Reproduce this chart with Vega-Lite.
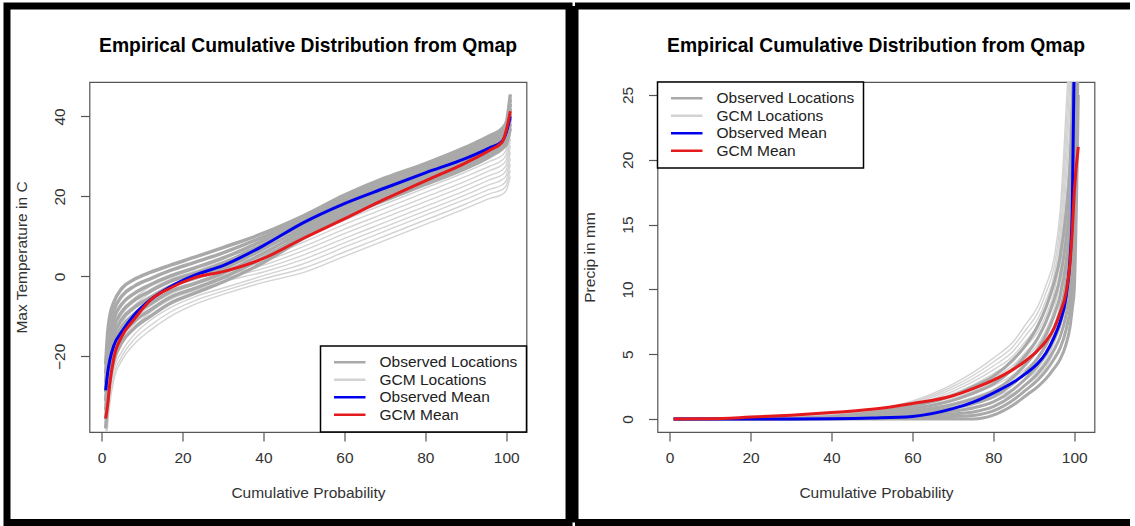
{
"$schema":"https://vega.github.io/schema/vega-lite/v6.json",
"background":"white",
"padding":{"left":2.5,"top":1,"right":0,"bottom":0},
"spacing":-3,
"datasets":{
"temp":[
{"s":"OL","g":"O1","x":1,"y":-22},{"s":"OL","g":"O1","x":1.5,"y":-14},{"s":"OL","g":"O1","x":2,"y":-10},{"s":"OL","g":"O1","x":3,"y":-6.5},{"s":"OL","g":"O1","x":5,"y":-3},{"s":"OL","g":"O1","x":8,"y":-0.8},{"s":"OL","g":"O1","x":12,"y":1},{"s":"OL","g":"O1","x":17,"y":2.8},{"s":"OL","g":"O1","x":23,"y":4.8},{"s":"OL","g":"O1","x":30,"y":7.2},{"s":"OL","g":"O1","x":40,"y":10.8},{"s":"OL","g":"O1","x":50,"y":15.2},{"s":"OL","g":"O1","x":60,"y":20.3},{"s":"OL","g":"O1","x":70,"y":24.6},{"s":"OL","g":"O1","x":80,"y":28.2},{"s":"OL","g":"O1","x":90,"y":32.3},{"s":"OL","g":"O1","x":96,"y":35.2},{"s":"OL","g":"O1","x":99,"y":37},{"s":"OL","g":"O1","x":100,"y":38.5},{"s":"OL","g":"O1","x":101,"y":45.5},
{"s":"OL","g":"O2","x":1,"y":-24.3},{"s":"OL","g":"O2","x":1.5,"y":-16.4},{"s":"OL","g":"O2","x":2,"y":-12.3},{"s":"OL","g":"O2","x":3,"y":-8.6},{"s":"OL","g":"O2","x":5,"y":-4.9},{"s":"OL","g":"O2","x":8,"y":-2.5},{"s":"OL","g":"O2","x":12,"y":-0.6},{"s":"OL","g":"O2","x":17,"y":1.5},{"s":"OL","g":"O2","x":23,"y":3.5},{"s":"OL","g":"O2","x":30,"y":5.9},{"s":"OL","g":"O2","x":40,"y":9.9},{"s":"OL","g":"O2","x":50,"y":14.5},{"s":"OL","g":"O2","x":60,"y":19.5},{"s":"OL","g":"O2","x":70,"y":23.8},{"s":"OL","g":"O2","x":80,"y":27.5},{"s":"OL","g":"O2","x":90,"y":31.5},{"s":"OL","g":"O2","x":96,"y":34.5},{"s":"OL","g":"O2","x":99,"y":36.3},{"s":"OL","g":"O2","x":100,"y":37.7},{"s":"OL","g":"O2","x":101,"y":44.3},
{"s":"OL","g":"O3","x":1,"y":-26.6},{"s":"OL","g":"O3","x":1.5,"y":-18.9},{"s":"OL","g":"O3","x":2,"y":-14.6},{"s":"OL","g":"O3","x":3,"y":-10.6},{"s":"OL","g":"O3","x":5,"y":-6.9},{"s":"OL","g":"O3","x":8,"y":-4.3},{"s":"OL","g":"O3","x":12,"y":-2.1},{"s":"OL","g":"O3","x":17,"y":0.1},{"s":"OL","g":"O3","x":23,"y":2.1},{"s":"OL","g":"O3","x":30,"y":4.6},{"s":"OL","g":"O3","x":40,"y":9.0},{"s":"OL","g":"O3","x":50,"y":13.7},{"s":"OL","g":"O3","x":60,"y":18.8},{"s":"OL","g":"O3","x":70,"y":23.0},{"s":"OL","g":"O3","x":80,"y":26.7},{"s":"OL","g":"O3","x":90,"y":30.8},{"s":"OL","g":"O3","x":96,"y":33.7},{"s":"OL","g":"O3","x":99,"y":35.6},{"s":"OL","g":"O3","x":100,"y":36.9},{"s":"OL","g":"O3","x":101,"y":43.1},
{"s":"OL","g":"O4","x":1,"y":-28.9},{"s":"OL","g":"O4","x":1.5,"y":-21.3},{"s":"OL","g":"O4","x":2,"y":-16.9},{"s":"OL","g":"O4","x":3,"y":-12.7},{"s":"OL","g":"O4","x":5,"y":-8.8},{"s":"OL","g":"O4","x":8,"y":-6.0},{"s":"OL","g":"O4","x":12,"y":-3.7},{"s":"OL","g":"O4","x":17,"y":-1.2},{"s":"OL","g":"O4","x":23,"y":0.8},{"s":"OL","g":"O4","x":30,"y":3.3},{"s":"OL","g":"O4","x":40,"y":8.1},{"s":"OL","g":"O4","x":50,"y":13.0},{"s":"OL","g":"O4","x":60,"y":18.0},{"s":"OL","g":"O4","x":70,"y":22.2},{"s":"OL","g":"O4","x":80,"y":26.0},{"s":"OL","g":"O4","x":90,"y":30.0},{"s":"OL","g":"O4","x":96,"y":33.0},{"s":"OL","g":"O4","x":99,"y":34.9},{"s":"OL","g":"O4","x":100,"y":36.1},{"s":"OL","g":"O4","x":101,"y":41.9},
{"s":"OL","g":"O5","x":1,"y":-31.1},{"s":"OL","g":"O5","x":1.5,"y":-23.7},{"s":"OL","g":"O5","x":2,"y":-19.1},{"s":"OL","g":"O5","x":3,"y":-14.8},{"s":"OL","g":"O5","x":5,"y":-10.7},{"s":"OL","g":"O5","x":8,"y":-7.8},{"s":"OL","g":"O5","x":12,"y":-5.3},{"s":"OL","g":"O5","x":17,"y":-2.5},{"s":"OL","g":"O5","x":23,"y":-0.5},{"s":"OL","g":"O5","x":30,"y":1.9},{"s":"OL","g":"O5","x":40,"y":6.9},{"s":"OL","g":"O5","x":50,"y":12.2},{"s":"OL","g":"O5","x":60,"y":17.3},{"s":"OL","g":"O5","x":70,"y":21.4},{"s":"OL","g":"O5","x":80,"y":25.2},{"s":"OL","g":"O5","x":90,"y":29.3},{"s":"OL","g":"O5","x":96,"y":32.2},{"s":"OL","g":"O5","x":99,"y":34.1},{"s":"OL","g":"O5","x":100,"y":35.4},{"s":"OL","g":"O5","x":101,"y":40.6},
{"s":"OL","g":"O6","x":1,"y":-33.4},{"s":"OL","g":"O6","x":1.5,"y":-26.1},{"s":"OL","g":"O6","x":2,"y":-21.4},{"s":"OL","g":"O6","x":3,"y":-16.9},{"s":"OL","g":"O6","x":5,"y":-12.6},{"s":"OL","g":"O6","x":8,"y":-9.5},{"s":"OL","g":"O6","x":12,"y":-6.9},{"s":"OL","g":"O6","x":17,"y":-3.8},{"s":"OL","g":"O6","x":23,"y":-1.8},{"s":"OL","g":"O6","x":30,"y":0.8},{"s":"OL","g":"O6","x":40,"y":5.8},{"s":"OL","g":"O6","x":50,"y":11.4},{"s":"OL","g":"O6","x":60,"y":16.5},{"s":"OL","g":"O6","x":70,"y":20.6},{"s":"OL","g":"O6","x":80,"y":24.5},{"s":"OL","g":"O6","x":90,"y":28.5},{"s":"OL","g":"O6","x":96,"y":31.5},{"s":"OL","g":"O6","x":99,"y":33.4},{"s":"OL","g":"O6","x":100,"y":34.6},{"s":"OL","g":"O6","x":101,"y":39.4},
{"s":"OL","g":"O7","x":1,"y":-35.7},{"s":"OL","g":"O7","x":1.5,"y":-28.6},{"s":"OL","g":"O7","x":2,"y":-23.7},{"s":"OL","g":"O7","x":3,"y":-18.9},{"s":"OL","g":"O7","x":5,"y":-14.6},{"s":"OL","g":"O7","x":8,"y":-11.3},{"s":"OL","g":"O7","x":12,"y":-8.4},{"s":"OL","g":"O7","x":17,"y":-5.2},{"s":"OL","g":"O7","x":23,"y":-3.0},{"s":"OL","g":"O7","x":30,"y":-0.3},{"s":"OL","g":"O7","x":40,"y":4.7},{"s":"OL","g":"O7","x":50,"y":10.5},{"s":"OL","g":"O7","x":60,"y":15.8},{"s":"OL","g":"O7","x":70,"y":19.8},{"s":"OL","g":"O7","x":80,"y":23.7},{"s":"OL","g":"O7","x":90,"y":27.8},{"s":"OL","g":"O7","x":96,"y":30.7},{"s":"OL","g":"O7","x":99,"y":32.7},{"s":"OL","g":"O7","x":100,"y":33.8},{"s":"OL","g":"O7","x":101,"y":38.2},
{"s":"OL","g":"O8","x":1,"y":-38},{"s":"OL","g":"O8","x":1.5,"y":-31},{"s":"OL","g":"O8","x":2,"y":-26},{"s":"OL","g":"O8","x":3,"y":-21},{"s":"OL","g":"O8","x":5,"y":-16.5},{"s":"OL","g":"O8","x":8,"y":-13},{"s":"OL","g":"O8","x":12,"y":-10},{"s":"OL","g":"O8","x":17,"y":-6.7},{"s":"OL","g":"O8","x":23,"y":-4.2},{"s":"OL","g":"O8","x":30,"y":-1.4},{"s":"OL","g":"O8","x":40,"y":3.5},{"s":"OL","g":"O8","x":50,"y":9.6},{"s":"OL","g":"O8","x":60,"y":15},{"s":"OL","g":"O8","x":70,"y":19},{"s":"OL","g":"O8","x":80,"y":23},{"s":"OL","g":"O8","x":90,"y":27},{"s":"OL","g":"O8","x":96,"y":30},{"s":"OL","g":"O8","x":99,"y":32},{"s":"OL","g":"O8","x":100,"y":33},{"s":"OL","g":"O8","x":101,"y":37},
{"s":"GL","g":"G0","x":1,"y":-28},{"s":"GL","g":"G0","x":1.5,"y":-21},{"s":"GL","g":"G0","x":2,"y":-17},{"s":"GL","g":"G0","x":3,"y":-12.5},{"s":"GL","g":"G0","x":5,"y":-8.5},{"s":"GL","g":"G0","x":8,"y":-5.5},{"s":"GL","g":"G0","x":12,"y":-2.5},{"s":"GL","g":"G0","x":17,"y":0},{"s":"GL","g":"G0","x":23,"y":2},{"s":"GL","g":"G0","x":30,"y":4.5},{"s":"GL","g":"G0","x":40,"y":8},{"s":"GL","g":"G0","x":50,"y":13},{"s":"GL","g":"G0","x":60,"y":17.5},{"s":"GL","g":"G0","x":70,"y":21.5},{"s":"GL","g":"G0","x":80,"y":25.5},{"s":"GL","g":"G0","x":90,"y":29.5},{"s":"GL","g":"G0","x":96,"y":32.3},{"s":"GL","g":"G0","x":99,"y":34},{"s":"GL","g":"G0","x":100,"y":35.5},{"s":"GL","g":"G0","x":101,"y":42},
{"s":"GL","g":"G1","x":1,"y":-29.5},{"s":"GL","g":"G1","x":1.5,"y":-22.5},{"s":"GL","g":"G1","x":2,"y":-18.4},{"s":"GL","g":"G1","x":3,"y":-13.7},{"s":"GL","g":"G1","x":5,"y":-9.5},{"s":"GL","g":"G1","x":8,"y":-6.4},{"s":"GL","g":"G1","x":12,"y":-3.3},{"s":"GL","g":"G1","x":17,"y":-0.7},{"s":"GL","g":"G1","x":23,"y":1.3},{"s":"GL","g":"G1","x":30,"y":3.8},{"s":"GL","g":"G1","x":40,"y":7.1},{"s":"GL","g":"G1","x":50,"y":11.9},{"s":"GL","g":"G1","x":60,"y":16.4},{"s":"GL","g":"G1","x":70,"y":20.4},{"s":"GL","g":"G1","x":80,"y":24.4},{"s":"GL","g":"G1","x":90,"y":28.4},{"s":"GL","g":"G1","x":96,"y":31.1},{"s":"GL","g":"G1","x":99,"y":32.8},{"s":"GL","g":"G1","x":100,"y":34.2},{"s":"GL","g":"G1","x":101,"y":40.5},
{"s":"GL","g":"G2","x":1,"y":-30.9},{"s":"GL","g":"G2","x":1.5,"y":-23.9},{"s":"GL","g":"G2","x":2,"y":-19.7},{"s":"GL","g":"G2","x":3,"y":-15.0},{"s":"GL","g":"G2","x":5,"y":-10.6},{"s":"GL","g":"G2","x":8,"y":-7.3},{"s":"GL","g":"G2","x":12,"y":-4.1},{"s":"GL","g":"G2","x":17,"y":-1.5},{"s":"GL","g":"G2","x":23,"y":0.6},{"s":"GL","g":"G2","x":30,"y":3.0},{"s":"GL","g":"G2","x":40,"y":6.3},{"s":"GL","g":"G2","x":50,"y":10.8},{"s":"GL","g":"G2","x":60,"y":15.2},{"s":"GL","g":"G2","x":70,"y":19.2},{"s":"GL","g":"G2","x":80,"y":23.2},{"s":"GL","g":"G2","x":90,"y":27.2},{"s":"GL","g":"G2","x":96,"y":30.0},{"s":"GL","g":"G2","x":99,"y":31.5},{"s":"GL","g":"G2","x":100,"y":33.0},{"s":"GL","g":"G2","x":101,"y":38.9},
{"s":"GL","g":"G3","x":1,"y":-32.4},{"s":"GL","g":"G3","x":1.5,"y":-25.4},{"s":"GL","g":"G3","x":2,"y":-21.1},{"s":"GL","g":"G3","x":3,"y":-16.2},{"s":"GL","g":"G3","x":5,"y":-11.6},{"s":"GL","g":"G3","x":8,"y":-8.2},{"s":"GL","g":"G3","x":12,"y":-5.0},{"s":"GL","g":"G3","x":17,"y":-2.2},{"s":"GL","g":"G3","x":23,"y":0.0},{"s":"GL","g":"G3","x":30,"y":2.3},{"s":"GL","g":"G3","x":40,"y":5.4},{"s":"GL","g":"G3","x":50,"y":9.7},{"s":"GL","g":"G3","x":60,"y":14.1},{"s":"GL","g":"G3","x":70,"y":18.1},{"s":"GL","g":"G3","x":80,"y":22.1},{"s":"GL","g":"G3","x":90,"y":26.1},{"s":"GL","g":"G3","x":96,"y":28.8},{"s":"GL","g":"G3","x":99,"y":30.3},{"s":"GL","g":"G3","x":100,"y":31.7},{"s":"GL","g":"G3","x":101,"y":37.4},
{"s":"GL","g":"G4","x":1,"y":-33.8},{"s":"GL","g":"G4","x":1.5,"y":-26.8},{"s":"GL","g":"G4","x":2,"y":-22.5},{"s":"GL","g":"G4","x":3,"y":-17.4},{"s":"GL","g":"G4","x":5,"y":-12.7},{"s":"GL","g":"G4","x":8,"y":-9.1},{"s":"GL","g":"G4","x":12,"y":-5.8},{"s":"GL","g":"G4","x":17,"y":-2.9},{"s":"GL","g":"G4","x":23,"y":-0.7},{"s":"GL","g":"G4","x":30,"y":1.6},{"s":"GL","g":"G4","x":40,"y":4.5},{"s":"GL","g":"G4","x":50,"y":8.6},{"s":"GL","g":"G4","x":60,"y":13.0},{"s":"GL","g":"G4","x":70,"y":17.0},{"s":"GL","g":"G4","x":80,"y":21.0},{"s":"GL","g":"G4","x":90,"y":25.0},{"s":"GL","g":"G4","x":96,"y":27.6},{"s":"GL","g":"G4","x":99,"y":29.1},{"s":"GL","g":"G4","x":100,"y":30.4},{"s":"GL","g":"G4","x":101,"y":35.8},
{"s":"GL","g":"G5","x":1,"y":-35.3},{"s":"GL","g":"G5","x":1.5,"y":-28.3},{"s":"GL","g":"G5","x":2,"y":-23.8},{"s":"GL","g":"G5","x":3,"y":-18.6},{"s":"GL","g":"G5","x":5,"y":-13.7},{"s":"GL","g":"G5","x":8,"y":-10.0},{"s":"GL","g":"G5","x":12,"y":-6.6},{"s":"GL","g":"G5","x":17,"y":-3.6},{"s":"GL","g":"G5","x":23,"y":-1.4},{"s":"GL","g":"G5","x":30,"y":0.9},{"s":"GL","g":"G5","x":40,"y":3.7},{"s":"GL","g":"G5","x":50,"y":7.5},{"s":"GL","g":"G5","x":60,"y":11.8},{"s":"GL","g":"G5","x":70,"y":15.8},{"s":"GL","g":"G5","x":80,"y":19.8},{"s":"GL","g":"G5","x":90,"y":23.8},{"s":"GL","g":"G5","x":96,"y":26.5},{"s":"GL","g":"G5","x":99,"y":27.9},{"s":"GL","g":"G5","x":100,"y":29.1},{"s":"GL","g":"G5","x":101,"y":34.3},
{"s":"GL","g":"G6","x":1,"y":-36.7},{"s":"GL","g":"G6","x":1.5,"y":-29.7},{"s":"GL","g":"G6","x":2,"y":-25.2},{"s":"GL","g":"G6","x":3,"y":-19.9},{"s":"GL","g":"G6","x":5,"y":-14.8},{"s":"GL","g":"G6","x":8,"y":-10.9},{"s":"GL","g":"G6","x":12,"y":-7.4},{"s":"GL","g":"G6","x":17,"y":-4.4},{"s":"GL","g":"G6","x":23,"y":-2.1},{"s":"GL","g":"G6","x":30,"y":0.1},{"s":"GL","g":"G6","x":40,"y":2.8},{"s":"GL","g":"G6","x":50,"y":6.5},{"s":"GL","g":"G6","x":60,"y":10.7},{"s":"GL","g":"G6","x":70,"y":14.7},{"s":"GL","g":"G6","x":80,"y":18.7},{"s":"GL","g":"G6","x":90,"y":22.7},{"s":"GL","g":"G6","x":96,"y":25.3},{"s":"GL","g":"G6","x":99,"y":26.6},{"s":"GL","g":"G6","x":100,"y":27.9},{"s":"GL","g":"G6","x":101,"y":32.7},
{"s":"GL","g":"G7","x":1,"y":-38.2},{"s":"GL","g":"G7","x":1.5,"y":-31.2},{"s":"GL","g":"G7","x":2,"y":-26.5},{"s":"GL","g":"G7","x":3,"y":-21.1},{"s":"GL","g":"G7","x":5,"y":-15.8},{"s":"GL","g":"G7","x":8,"y":-11.9},{"s":"GL","g":"G7","x":12,"y":-8.2},{"s":"GL","g":"G7","x":17,"y":-5.1},{"s":"GL","g":"G7","x":23,"y":-2.8},{"s":"GL","g":"G7","x":30,"y":-0.6},{"s":"GL","g":"G7","x":40,"y":2.0},{"s":"GL","g":"G7","x":50,"y":5.4},{"s":"GL","g":"G7","x":60,"y":9.5},{"s":"GL","g":"G7","x":70,"y":13.5},{"s":"GL","g":"G7","x":80,"y":17.5},{"s":"GL","g":"G7","x":90,"y":21.5},{"s":"GL","g":"G7","x":96,"y":24.2},{"s":"GL","g":"G7","x":99,"y":25.4},{"s":"GL","g":"G7","x":100,"y":26.6},{"s":"GL","g":"G7","x":101,"y":31.2},
{"s":"GL","g":"G8","x":1,"y":-39.6},{"s":"GL","g":"G8","x":1.5,"y":-32.6},{"s":"GL","g":"G8","x":2,"y":-27.9},{"s":"GL","g":"G8","x":3,"y":-22.3},{"s":"GL","g":"G8","x":5,"y":-16.9},{"s":"GL","g":"G8","x":8,"y":-12.8},{"s":"GL","g":"G8","x":12,"y":-9.0},{"s":"GL","g":"G8","x":17,"y":-5.8},{"s":"GL","g":"G8","x":23,"y":-3.5},{"s":"GL","g":"G8","x":30,"y":-1.3},{"s":"GL","g":"G8","x":40,"y":1.1},{"s":"GL","g":"G8","x":50,"y":4.3},{"s":"GL","g":"G8","x":60,"y":8.4},{"s":"GL","g":"G8","x":70,"y":12.4},{"s":"GL","g":"G8","x":80,"y":16.4},{"s":"GL","g":"G8","x":90,"y":20.4},{"s":"GL","g":"G8","x":96,"y":23.0},{"s":"GL","g":"G8","x":99,"y":24.2},{"s":"GL","g":"G8","x":100,"y":25.3},{"s":"GL","g":"G8","x":101,"y":29.6},
{"s":"GL","g":"G9","x":1,"y":-41.1},{"s":"GL","g":"G9","x":1.5,"y":-34.1},{"s":"GL","g":"G9","x":2,"y":-29.3},{"s":"GL","g":"G9","x":3,"y":-23.5},{"s":"GL","g":"G9","x":5,"y":-18.8},{"s":"GL","g":"G9","x":8,"y":-14.6},{"s":"GL","g":"G9","x":12,"y":-11},{"s":"GL","g":"G9","x":17,"y":-7.8},{"s":"GL","g":"G9","x":23,"y":-5.1},{"s":"GL","g":"G9","x":30,"y":-2.9},{"s":"GL","g":"G9","x":40,"y":0.2},{"s":"GL","g":"G9","x":50,"y":3.2},{"s":"GL","g":"G9","x":60,"y":7.3},{"s":"GL","g":"G9","x":70,"y":11.3},{"s":"GL","g":"G9","x":80,"y":15.3},{"s":"GL","g":"G9","x":90,"y":19.3},{"s":"GL","g":"G9","x":96,"y":21.8},{"s":"GL","g":"G9","x":99,"y":22.9},{"s":"GL","g":"G9","x":100,"y":24.0},{"s":"GL","g":"G9","x":101,"y":28.1},
{"s":"GL","g":"G10","x":1,"y":-42.5},{"s":"GL","g":"G10","x":1.5,"y":-35.5},{"s":"GL","g":"G10","x":2,"y":-30.6},{"s":"GL","g":"G10","x":3,"y":-24.8},{"s":"GL","g":"G10","x":5,"y":-20},{"s":"GL","g":"G10","x":8,"y":-15.8},{"s":"GL","g":"G10","x":12,"y":-12.3},{"s":"GL","g":"G10","x":17,"y":-8.9},{"s":"GL","g":"G10","x":23,"y":-6.1},{"s":"GL","g":"G10","x":30,"y":-3.7},{"s":"GL","g":"G10","x":40,"y":-0.6},{"s":"GL","g":"G10","x":50,"y":2.1},{"s":"GL","g":"G10","x":60,"y":6.1},{"s":"GL","g":"G10","x":70,"y":10.1},{"s":"GL","g":"G10","x":80,"y":14.1},{"s":"GL","g":"G10","x":90,"y":18.1},{"s":"GL","g":"G10","x":96,"y":20.7},{"s":"GL","g":"G10","x":99,"y":21.7},{"s":"GL","g":"G10","x":100,"y":22.8},{"s":"GL","g":"G10","x":101,"y":26.5},
{"s":"GL","g":"G11","x":1,"y":-44},{"s":"GL","g":"G11","x":1.5,"y":-37},{"s":"GL","g":"G11","x":2,"y":-32},{"s":"GL","g":"G11","x":3,"y":-26},{"s":"GL","g":"G11","x":5,"y":-21},{"s":"GL","g":"G11","x":8,"y":-17},{"s":"GL","g":"G11","x":12,"y":-13.5},{"s":"GL","g":"G11","x":17,"y":-10},{"s":"GL","g":"G11","x":23,"y":-7},{"s":"GL","g":"G11","x":30,"y":-4.5},{"s":"GL","g":"G11","x":40,"y":-1.5},{"s":"GL","g":"G11","x":50,"y":1},{"s":"GL","g":"G11","x":60,"y":5},{"s":"GL","g":"G11","x":70,"y":9},{"s":"GL","g":"G11","x":80,"y":13},{"s":"GL","g":"G11","x":90,"y":17},{"s":"GL","g":"G11","x":96,"y":19.5},{"s":"GL","g":"G11","x":99,"y":20.5},{"s":"GL","g":"G11","x":100,"y":21.5},{"s":"GL","g":"G11","x":101,"y":25},
{"s":"OM","g":"OM","x":1,"y":-28.5},{"s":"OM","g":"OM","x":1.5,"y":-24},{"s":"OM","g":"OM","x":2,"y":-21},{"s":"OM","g":"OM","x":3,"y":-17.3},{"s":"OM","g":"OM","x":5,"y":-13.8},{"s":"OM","g":"OM","x":8,"y":-9.7},{"s":"OM","g":"OM","x":12,"y":-5.9},{"s":"OM","g":"OM","x":17,"y":-2.6},{"s":"OM","g":"OM","x":23,"y":0.3},{"s":"OM","g":"OM","x":30,"y":2.7},{"s":"OM","g":"OM","x":40,"y":7.7},{"s":"OM","g":"OM","x":50,"y":13.5},{"s":"OM","g":"OM","x":60,"y":18.2},{"s":"OM","g":"OM","x":70,"y":22.1},{"s":"OM","g":"OM","x":80,"y":25.9},{"s":"OM","g":"OM","x":90,"y":29.5},{"s":"OM","g":"OM","x":96,"y":32.2},{"s":"OM","g":"OM","x":99,"y":33.8},{"s":"OM","g":"OM","x":100,"y":36},{"s":"OM","g":"OM","x":101,"y":40},
{"s":"GM","g":"GM","x":1,"y":-35.5},{"s":"GM","g":"GM","x":1.5,"y":-32},{"s":"GM","g":"GM","x":2,"y":-27},{"s":"GM","g":"GM","x":3,"y":-20.5},{"s":"GM","g":"GM","x":5,"y":-15},{"s":"GM","g":"GM","x":8,"y":-10.8},{"s":"GM","g":"GM","x":12,"y":-6.0},{"s":"GM","g":"GM","x":17,"y":-2.9},{"s":"GM","g":"GM","x":23,"y":-0.3},{"s":"GM","g":"GM","x":30,"y":1.2},{"s":"GM","g":"GM","x":40,"y":4.5},{"s":"GM","g":"GM","x":50,"y":9.6},{"s":"GM","g":"GM","x":60,"y":14.4},{"s":"GM","g":"GM","x":70,"y":19.3},{"s":"GM","g":"GM","x":80,"y":23.9},{"s":"GM","g":"GM","x":90,"y":28.4},{"s":"GM","g":"GM","x":96,"y":31.6},{"s":"GM","g":"GM","x":99,"y":33.6},{"s":"GM","g":"GM","x":100,"y":36.5},{"s":"GM","g":"GM","x":101,"y":41.3}
],
"precip":[
{"s":"OL","g":"O1","x":1,"y":0},{"s":"OL","g":"O1","x":10,"y":0},{"s":"OL","g":"O1","x":20,"y":0},{"s":"OL","g":"O1","x":30,"y":0.05},{"s":"OL","g":"O1","x":40,"y":0.2},{"s":"OL","g":"O1","x":50,"y":0.5},{"s":"OL","g":"O1","x":60,"y":1.0},{"s":"OL","g":"O1","x":70,"y":1.8},{"s":"OL","g":"O1","x":75,"y":2.5},{"s":"OL","g":"O1","x":80,"y":3.3},{"s":"OL","g":"O1","x":85,"y":4.6},{"s":"OL","g":"O1","x":88,"y":5.7},{"s":"OL","g":"O1","x":91,"y":7.2},{"s":"OL","g":"O1","x":93,"y":8.6},{"s":"OL","g":"O1","x":95,"y":10.5},{"s":"OL","g":"O1","x":96.5,"y":12.5},{"s":"OL","g":"O1","x":98,"y":16},{"s":"OL","g":"O1","x":99,"y":20},{"s":"OL","g":"O1","x":99.5,"y":24},{"s":"OL","g":"O1","x":100,"y":30},{"s":"OL","g":"O1","x":101,"y":60},
{"s":"OL","g":"O2","x":1,"y":0},{"s":"OL","g":"O2","x":10,"y":0},{"s":"OL","g":"O2","x":20,"y":0},{"s":"OL","g":"O2","x":30,"y":0.04},{"s":"OL","g":"O2","x":40,"y":0.16},{"s":"OL","g":"O2","x":50,"y":0.4},{"s":"OL","g":"O2","x":60,"y":0.8},{"s":"OL","g":"O2","x":70,"y":1.44},{"s":"OL","g":"O2","x":75,"y":2.0},{"s":"OL","g":"O2","x":80,"y":2.7},{"s":"OL","g":"O2","x":85,"y":3.9},{"s":"OL","g":"O2","x":88,"y":4.92},{"s":"OL","g":"O2","x":91,"y":6.26},{"s":"OL","g":"O2","x":93,"y":7.5},{"s":"OL","g":"O2","x":95,"y":9.18},{"s":"OL","g":"O2","x":96.5,"y":10.92},{"s":"OL","g":"O2","x":98,"y":13.96},{"s":"OL","g":"O2","x":99,"y":17.44},{"s":"OL","g":"O2","x":99.5,"y":20.9},{"s":"OL","g":"O2","x":100,"y":26},{"s":"OL","g":"O2","x":101,"y":53},
{"s":"OL","g":"O3","x":1,"y":0},{"s":"OL","g":"O3","x":10,"y":0},{"s":"OL","g":"O3","x":20,"y":0},{"s":"OL","g":"O3","x":30,"y":0.03},{"s":"OL","g":"O3","x":40,"y":0.12},{"s":"OL","g":"O3","x":50,"y":0.31},{"s":"OL","g":"O3","x":60,"y":0.62},{"s":"OL","g":"O3","x":70,"y":1.12},{"s":"OL","g":"O3","x":75,"y":1.55},{"s":"OL","g":"O3","x":80,"y":2.16},{"s":"OL","g":"O3","x":85,"y":3.27},{"s":"OL","g":"O3","x":88,"y":4.22},{"s":"OL","g":"O3","x":91,"y":5.41},{"s":"OL","g":"O3","x":93,"y":6.51},{"s":"OL","g":"O3","x":95,"y":7.99},{"s":"OL","g":"O3","x":96.5,"y":9.5},{"s":"OL","g":"O3","x":98,"y":12.12},{"s":"OL","g":"O3","x":99,"y":15.14},{"s":"OL","g":"O3","x":99.5,"y":18.11},{"s":"OL","g":"O3","x":100,"y":22.4},{"s":"OL","g":"O3","x":101,"y":46.7},
{"s":"OL","g":"O4","x":1,"y":0},{"s":"OL","g":"O4","x":10,"y":0},{"s":"OL","g":"O4","x":20,"y":0},{"s":"OL","g":"O4","x":30,"y":0.02},{"s":"OL","g":"O4","x":40,"y":0.09},{"s":"OL","g":"O4","x":50,"y":0.24},{"s":"OL","g":"O4","x":60,"y":0.47},{"s":"OL","g":"O4","x":70,"y":0.85},{"s":"OL","g":"O4","x":75,"y":1.18},{"s":"OL","g":"O4","x":80,"y":1.71},{"s":"OL","g":"O4","x":85,"y":2.75},{"s":"OL","g":"O4","x":88,"y":3.63},{"s":"OL","g":"O4","x":91,"y":4.71},{"s":"OL","g":"O4","x":93,"y":5.69},{"s":"OL","g":"O4","x":95,"y":7.0},{"s":"OL","g":"O4","x":96.5,"y":8.31},{"s":"OL","g":"O4","x":98,"y":10.59},{"s":"OL","g":"O4","x":99,"y":13.22},{"s":"OL","g":"O4","x":99.5,"y":15.79},{"s":"OL","g":"O4","x":100,"y":19.4},{"s":"OL","g":"O4","x":101,"y":41.45},
{"s":"OL","g":"O5","x":1,"y":0},{"s":"OL","g":"O5","x":10,"y":0},{"s":"OL","g":"O5","x":20,"y":0},{"s":"OL","g":"O5","x":30,"y":0.02},{"s":"OL","g":"O5","x":40,"y":0.07},{"s":"OL","g":"O5","x":50,"y":0.17},{"s":"OL","g":"O5","x":60,"y":0.34},{"s":"OL","g":"O5","x":70,"y":0.61},{"s":"OL","g":"O5","x":75,"y":0.85},{"s":"OL","g":"O5","x":80,"y":1.32},{"s":"OL","g":"O5","x":85,"y":2.29},{"s":"OL","g":"O5","x":88,"y":3.13},{"s":"OL","g":"O5","x":91,"y":4.1},{"s":"OL","g":"O5","x":93,"y":4.97},{"s":"OL","g":"O5","x":95,"y":6.14},{"s":"OL","g":"O5","x":96.5,"y":7.29},{"s":"OL","g":"O5","x":98,"y":9.27},{"s":"OL","g":"O5","x":99,"y":11.55},{"s":"OL","g":"O5","x":99.5,"y":13.77},{"s":"OL","g":"O5","x":100,"y":16.8},{"s":"OL","g":"O5","x":101,"y":36.9},
{"s":"OL","g":"O6","x":1,"y":0},{"s":"OL","g":"O6","x":10,"y":0},{"s":"OL","g":"O6","x":20,"y":0},{"s":"OL","g":"O6","x":30,"y":0.01},{"s":"OL","g":"O6","x":40,"y":0.04},{"s":"OL","g":"O6","x":50,"y":0.11},{"s":"OL","g":"O6","x":60,"y":0.22},{"s":"OL","g":"O6","x":70,"y":0.4},{"s":"OL","g":"O6","x":75,"y":0.55},{"s":"OL","g":"O6","x":80,"y":0.96},{"s":"OL","g":"O6","x":85,"y":1.87},{"s":"OL","g":"O6","x":88,"y":2.66},{"s":"OL","g":"O6","x":91,"y":3.53},{"s":"OL","g":"O6","x":93,"y":4.31},{"s":"OL","g":"O6","x":95,"y":5.35},{"s":"OL","g":"O6","x":96.5,"y":6.34},{"s":"OL","g":"O6","x":98,"y":8.04},{"s":"OL","g":"O6","x":99,"y":10.02},{"s":"OL","g":"O6","x":99.5,"y":11.91},{"s":"OL","g":"O6","x":100,"y":14.4},{"s":"OL","g":"O6","x":101,"y":32.7},
{"s":"OL","g":"O7","x":1,"y":0},{"s":"OL","g":"O7","x":10,"y":0},{"s":"OL","g":"O7","x":20,"y":0},{"s":"OL","g":"O7","x":30,"y":0.01},{"s":"OL","g":"O7","x":40,"y":0.02},{"s":"OL","g":"O7","x":50,"y":0.06},{"s":"OL","g":"O7","x":60,"y":0.11},{"s":"OL","g":"O7","x":70,"y":0.2},{"s":"OL","g":"O7","x":75,"y":0.28},{"s":"OL","g":"O7","x":80,"y":0.63},{"s":"OL","g":"O7","x":85,"y":1.49},{"s":"OL","g":"O7","x":88,"y":2.23},{"s":"OL","g":"O7","x":91,"y":3.02},{"s":"OL","g":"O7","x":93,"y":3.71},{"s":"OL","g":"O7","x":95,"y":4.63},{"s":"OL","g":"O7","x":96.5,"y":5.47},{"s":"OL","g":"O7","x":98,"y":6.92},{"s":"OL","g":"O7","x":99,"y":8.61},{"s":"OL","g":"O7","x":99.5,"y":10.2},{"s":"OL","g":"O7","x":100,"y":12.2},{"s":"OL","g":"O7","x":101,"y":28.85},
{"s":"OL","g":"O8","x":1,"y":0},{"s":"OL","g":"O8","x":10,"y":0},{"s":"OL","g":"O8","x":20,"y":0},{"s":"OL","g":"O8","x":30,"y":0},{"s":"OL","g":"O8","x":40,"y":0},{"s":"OL","g":"O8","x":50,"y":0},{"s":"OL","g":"O8","x":60,"y":0},{"s":"OL","g":"O8","x":70,"y":0},{"s":"OL","g":"O8","x":75,"y":0},{"s":"OL","g":"O8","x":80,"y":0.3},{"s":"OL","g":"O8","x":85,"y":1.1},{"s":"OL","g":"O8","x":88,"y":1.8},{"s":"OL","g":"O8","x":91,"y":2.5},{"s":"OL","g":"O8","x":93,"y":3.1},{"s":"OL","g":"O8","x":95,"y":3.9},{"s":"OL","g":"O8","x":96.5,"y":4.6},{"s":"OL","g":"O8","x":98,"y":5.8},{"s":"OL","g":"O8","x":99,"y":7.2},{"s":"OL","g":"O8","x":99.5,"y":8.5},{"s":"OL","g":"O8","x":100,"y":10},{"s":"OL","g":"O8","x":101,"y":25},
{"s":"GL","g":"G0","x":1,"y":0},{"s":"GL","g":"G0","x":10,"y":0},{"s":"GL","g":"G0","x":20,"y":0.1},{"s":"GL","g":"G0","x":30,"y":0.25},{"s":"GL","g":"G0","x":40,"y":0.45},{"s":"GL","g":"G0","x":50,"y":0.7},{"s":"GL","g":"G0","x":60,"y":1.4},{"s":"GL","g":"G0","x":70,"y":2.7},{"s":"GL","g":"G0","x":75,"y":3.6},{"s":"GL","g":"G0","x":80,"y":4.7},{"s":"GL","g":"G0","x":85,"y":6.0},{"s":"GL","g":"G0","x":88,"y":7.3},{"s":"GL","g":"G0","x":91,"y":8.7},{"s":"GL","g":"G0","x":93,"y":10.3},{"s":"GL","g":"G0","x":95,"y":12.4},{"s":"GL","g":"G0","x":96.5,"y":16},{"s":"GL","g":"G0","x":98,"y":24},{"s":"GL","g":"G0","x":99,"y":30},{"s":"GL","g":"G0","x":99.5,"y":34},{"s":"GL","g":"G0","x":100,"y":40},{"s":"GL","g":"G0","x":101,"y":70},
{"s":"GL","g":"G1","x":1,"y":0},{"s":"GL","g":"G1","x":10,"y":0},{"s":"GL","g":"G1","x":20,"y":0.09},{"s":"GL","g":"G1","x":30,"y":0.23},{"s":"GL","g":"G1","x":40,"y":0.41},{"s":"GL","g":"G1","x":50,"y":0.65},{"s":"GL","g":"G1","x":60,"y":1.3},{"s":"GL","g":"G1","x":70,"y":2.51},{"s":"GL","g":"G1","x":75,"y":3.36},{"s":"GL","g":"G1","x":80,"y":4.4},{"s":"GL","g":"G1","x":85,"y":5.64},{"s":"GL","g":"G1","x":88,"y":6.87},{"s":"GL","g":"G1","x":91,"y":8.21},{"s":"GL","g":"G1","x":93,"y":9.73},{"s":"GL","g":"G1","x":95,"y":11.75},{"s":"GL","g":"G1","x":96.5,"y":15.12},{"s":"GL","g":"G1","x":98,"y":22.59},{"s":"GL","g":"G1","x":99,"y":28.27},{"s":"GL","g":"G1","x":99.5,"y":32.14},{"s":"GL","g":"G1","x":100,"y":37.91},{"s":"GL","g":"G1","x":101,"y":66.36},
{"s":"GL","g":"G2","x":1,"y":0},{"s":"GL","g":"G2","x":10,"y":0},{"s":"GL","g":"G2","x":20,"y":0.08},{"s":"GL","g":"G2","x":30,"y":0.2},{"s":"GL","g":"G2","x":40,"y":0.38},{"s":"GL","g":"G2","x":50,"y":0.6},{"s":"GL","g":"G2","x":60,"y":1.21},{"s":"GL","g":"G2","x":70,"y":2.33},{"s":"GL","g":"G2","x":75,"y":3.12},{"s":"GL","g":"G2","x":80,"y":4.09},{"s":"GL","g":"G2","x":85,"y":5.27},{"s":"GL","g":"G2","x":88,"y":6.45},{"s":"GL","g":"G2","x":91,"y":7.72},{"s":"GL","g":"G2","x":93,"y":9.15},{"s":"GL","g":"G2","x":95,"y":11.09},{"s":"GL","g":"G2","x":96.5,"y":14.24},{"s":"GL","g":"G2","x":98,"y":21.18},{"s":"GL","g":"G2","x":99,"y":26.55},{"s":"GL","g":"G2","x":99.5,"y":30.27},{"s":"GL","g":"G2","x":100,"y":35.82},{"s":"GL","g":"G2","x":101,"y":62.73},
{"s":"GL","g":"G3","x":1,"y":0},{"s":"GL","g":"G3","x":10,"y":0},{"s":"GL","g":"G3","x":20,"y":0.07},{"s":"GL","g":"G3","x":30,"y":0.18},{"s":"GL","g":"G3","x":40,"y":0.34},{"s":"GL","g":"G3","x":50,"y":0.55},{"s":"GL","g":"G3","x":60,"y":1.11},{"s":"GL","g":"G3","x":70,"y":2.14},{"s":"GL","g":"G3","x":75,"y":2.88},{"s":"GL","g":"G3","x":80,"y":3.79},{"s":"GL","g":"G3","x":85,"y":4.91},{"s":"GL","g":"G3","x":88,"y":6.02},{"s":"GL","g":"G3","x":91,"y":7.23},{"s":"GL","g":"G3","x":93,"y":8.58},{"s":"GL","g":"G3","x":95,"y":10.44},{"s":"GL","g":"G3","x":96.5,"y":13.35},{"s":"GL","g":"G3","x":98,"y":19.77},{"s":"GL","g":"G3","x":99,"y":24.82},{"s":"GL","g":"G3","x":99.5,"y":28.41},{"s":"GL","g":"G3","x":100,"y":33.73},{"s":"GL","g":"G3","x":101,"y":59.09},
{"s":"GL","g":"G4","x":1,"y":0},{"s":"GL","g":"G4","x":10,"y":0},{"s":"GL","g":"G4","x":20,"y":0.06},{"s":"GL","g":"G4","x":30,"y":0.16},{"s":"GL","g":"G4","x":40,"y":0.3},{"s":"GL","g":"G4","x":50,"y":0.5},{"s":"GL","g":"G4","x":60,"y":1.02},{"s":"GL","g":"G4","x":70,"y":1.95},{"s":"GL","g":"G4","x":75,"y":2.64},{"s":"GL","g":"G4","x":80,"y":3.48},{"s":"GL","g":"G4","x":85,"y":4.55},{"s":"GL","g":"G4","x":88,"y":5.59},{"s":"GL","g":"G4","x":91,"y":6.74},{"s":"GL","g":"G4","x":93,"y":8.01},{"s":"GL","g":"G4","x":95,"y":9.78},{"s":"GL","g":"G4","x":96.5,"y":12.47},{"s":"GL","g":"G4","x":98,"y":18.36},{"s":"GL","g":"G4","x":99,"y":23.09},{"s":"GL","g":"G4","x":99.5,"y":26.55},{"s":"GL","g":"G4","x":100,"y":31.64},{"s":"GL","g":"G4","x":101,"y":55.45},
{"s":"GL","g":"G5","x":1,"y":0},{"s":"GL","g":"G5","x":10,"y":0},{"s":"GL","g":"G5","x":20,"y":0.05},{"s":"GL","g":"G5","x":30,"y":0.14},{"s":"GL","g":"G5","x":40,"y":0.27},{"s":"GL","g":"G5","x":50,"y":0.45},{"s":"GL","g":"G5","x":60,"y":0.92},{"s":"GL","g":"G5","x":70,"y":1.77},{"s":"GL","g":"G5","x":75,"y":2.4},{"s":"GL","g":"G5","x":80,"y":3.18},{"s":"GL","g":"G5","x":85,"y":4.18},{"s":"GL","g":"G5","x":88,"y":5.16},{"s":"GL","g":"G5","x":91,"y":6.25},{"s":"GL","g":"G5","x":93,"y":7.44},{"s":"GL","g":"G5","x":95,"y":9.13},{"s":"GL","g":"G5","x":96.5,"y":11.59},{"s":"GL","g":"G5","x":98,"y":16.95},{"s":"GL","g":"G5","x":99,"y":21.36},{"s":"GL","g":"G5","x":99.5,"y":24.68},{"s":"GL","g":"G5","x":100,"y":29.55},{"s":"GL","g":"G5","x":101,"y":51.82},
{"s":"GL","g":"G6","x":1,"y":0},{"s":"GL","g":"G6","x":10,"y":0},{"s":"GL","g":"G6","x":20,"y":0.05},{"s":"GL","g":"G6","x":30,"y":0.11},{"s":"GL","g":"G6","x":40,"y":0.23},{"s":"GL","g":"G6","x":50,"y":0.4},{"s":"GL","g":"G6","x":60,"y":0.83},{"s":"GL","g":"G6","x":70,"y":1.58},{"s":"GL","g":"G6","x":75,"y":2.15},{"s":"GL","g":"G6","x":80,"y":2.87},{"s":"GL","g":"G6","x":85,"y":3.82},{"s":"GL","g":"G6","x":88,"y":4.74},{"s":"GL","g":"G6","x":91,"y":5.75},{"s":"GL","g":"G6","x":93,"y":6.86},{"s":"GL","g":"G6","x":95,"y":8.47},{"s":"GL","g":"G6","x":96.5,"y":10.71},{"s":"GL","g":"G6","x":98,"y":15.55},{"s":"GL","g":"G6","x":99,"y":19.64},{"s":"GL","g":"G6","x":99.5,"y":22.82},{"s":"GL","g":"G6","x":100,"y":27.45},{"s":"GL","g":"G6","x":101,"y":48.18},
{"s":"GL","g":"G7","x":1,"y":0},{"s":"GL","g":"G7","x":10,"y":0},{"s":"GL","g":"G7","x":20,"y":0.04},{"s":"GL","g":"G7","x":30,"y":0.09},{"s":"GL","g":"G7","x":40,"y":0.2},{"s":"GL","g":"G7","x":50,"y":0.35},{"s":"GL","g":"G7","x":60,"y":0.73},{"s":"GL","g":"G7","x":70,"y":1.4},{"s":"GL","g":"G7","x":75,"y":1.91},{"s":"GL","g":"G7","x":80,"y":2.57},{"s":"GL","g":"G7","x":85,"y":3.45},{"s":"GL","g":"G7","x":88,"y":4.31},{"s":"GL","g":"G7","x":91,"y":5.26},{"s":"GL","g":"G7","x":93,"y":6.29},{"s":"GL","g":"G7","x":95,"y":7.82},{"s":"GL","g":"G7","x":96.5,"y":9.83},{"s":"GL","g":"G7","x":98,"y":14.14},{"s":"GL","g":"G7","x":99,"y":17.91},{"s":"GL","g":"G7","x":99.5,"y":20.95},{"s":"GL","g":"G7","x":100,"y":25.36},{"s":"GL","g":"G7","x":101,"y":44.55},
{"s":"GL","g":"G8","x":1,"y":0},{"s":"GL","g":"G8","x":10,"y":0},{"s":"GL","g":"G8","x":20,"y":0.03},{"s":"GL","g":"G8","x":30,"y":0.07},{"s":"GL","g":"G8","x":40,"y":0.16},{"s":"GL","g":"G8","x":50,"y":0.3},{"s":"GL","g":"G8","x":60,"y":0.64},{"s":"GL","g":"G8","x":70,"y":1.21},{"s":"GL","g":"G8","x":75,"y":1.67},{"s":"GL","g":"G8","x":80,"y":2.26},{"s":"GL","g":"G8","x":85,"y":3.09},{"s":"GL","g":"G8","x":88,"y":3.88},{"s":"GL","g":"G8","x":91,"y":4.77},{"s":"GL","g":"G8","x":93,"y":5.72},{"s":"GL","g":"G8","x":95,"y":7.16},{"s":"GL","g":"G8","x":96.5,"y":8.95},{"s":"GL","g":"G8","x":98,"y":12.73},{"s":"GL","g":"G8","x":99,"y":16.18},{"s":"GL","g":"G8","x":99.5,"y":19.09},{"s":"GL","g":"G8","x":100,"y":23.27},{"s":"GL","g":"G8","x":101,"y":40.91},
{"s":"GL","g":"G9","x":1,"y":0},{"s":"GL","g":"G9","x":10,"y":0},{"s":"GL","g":"G9","x":20,"y":0.02},{"s":"GL","g":"G9","x":30,"y":0.05},{"s":"GL","g":"G9","x":40,"y":0.12},{"s":"GL","g":"G9","x":50,"y":0.25},{"s":"GL","g":"G9","x":60,"y":0.54},{"s":"GL","g":"G9","x":70,"y":1.02},{"s":"GL","g":"G9","x":75,"y":1.43},{"s":"GL","g":"G9","x":80,"y":1.96},{"s":"GL","g":"G9","x":85,"y":2.73},{"s":"GL","g":"G9","x":88,"y":3.45},{"s":"GL","g":"G9","x":91,"y":4.28},{"s":"GL","g":"G9","x":93,"y":5.15},{"s":"GL","g":"G9","x":95,"y":6.51},{"s":"GL","g":"G9","x":96.5,"y":8.06},{"s":"GL","g":"G9","x":98,"y":11.32},{"s":"GL","g":"G9","x":99,"y":14.45},{"s":"GL","g":"G9","x":99.5,"y":17.23},{"s":"GL","g":"G9","x":100,"y":21.18},{"s":"GL","g":"G9","x":101,"y":37.27},
{"s":"GL","g":"G10","x":1,"y":0},{"s":"GL","g":"G10","x":10,"y":0},{"s":"GL","g":"G10","x":20,"y":0.01},{"s":"GL","g":"G10","x":30,"y":0.02},{"s":"GL","g":"G10","x":40,"y":0.09},{"s":"GL","g":"G10","x":50,"y":0.2},{"s":"GL","g":"G10","x":60,"y":0.45},{"s":"GL","g":"G10","x":70,"y":0.84},{"s":"GL","g":"G10","x":75,"y":1.19},{"s":"GL","g":"G10","x":80,"y":1.65},{"s":"GL","g":"G10","x":85,"y":2.36},{"s":"GL","g":"G10","x":88,"y":3.03},{"s":"GL","g":"G10","x":91,"y":3.79},{"s":"GL","g":"G10","x":93,"y":4.57},{"s":"GL","g":"G10","x":95,"y":5.85},{"s":"GL","g":"G10","x":96.5,"y":7.18},{"s":"GL","g":"G10","x":98,"y":9.91},{"s":"GL","g":"G10","x":99,"y":12.73},{"s":"GL","g":"G10","x":99.5,"y":15.36},{"s":"GL","g":"G10","x":100,"y":19.09},{"s":"GL","g":"G10","x":101,"y":33.64},
{"s":"GL","g":"G11","x":1,"y":0},{"s":"GL","g":"G11","x":10,"y":0},{"s":"GL","g":"G11","x":20,"y":0},{"s":"GL","g":"G11","x":30,"y":0},{"s":"GL","g":"G11","x":40,"y":0.05},{"s":"GL","g":"G11","x":50,"y":0.15},{"s":"GL","g":"G11","x":60,"y":0.35},{"s":"GL","g":"G11","x":70,"y":0.65},{"s":"GL","g":"G11","x":75,"y":0.95},{"s":"GL","g":"G11","x":80,"y":1.35},{"s":"GL","g":"G11","x":85,"y":2.0},{"s":"GL","g":"G11","x":88,"y":2.6},{"s":"GL","g":"G11","x":91,"y":3.3},{"s":"GL","g":"G11","x":93,"y":4.0},{"s":"GL","g":"G11","x":95,"y":5.2},{"s":"GL","g":"G11","x":96.5,"y":6.3},{"s":"GL","g":"G11","x":98,"y":8.5},{"s":"GL","g":"G11","x":99,"y":11},{"s":"GL","g":"G11","x":99.5,"y":13.5},{"s":"GL","g":"G11","x":100,"y":17},{"s":"GL","g":"G11","x":101,"y":30},
{"s":"OM","g":"OM","x":1,"y":0},{"s":"OM","g":"OM","x":10,"y":0},{"s":"OM","g":"OM","x":20,"y":0},{"s":"OM","g":"OM","x":30,"y":0},{"s":"OM","g":"OM","x":40,"y":0.02},{"s":"OM","g":"OM","x":50,"y":0.08},{"s":"OM","g":"OM","x":60,"y":0.2},{"s":"OM","g":"OM","x":70,"y":0.8},{"s":"OM","g":"OM","x":75,"y":1.3},{"s":"OM","g":"OM","x":80,"y":2.0},{"s":"OM","g":"OM","x":85,"y":2.85},{"s":"OM","g":"OM","x":88,"y":3.5},{"s":"OM","g":"OM","x":91,"y":4.3},{"s":"OM","g":"OM","x":93,"y":5.1},{"s":"OM","g":"OM","x":95,"y":6.3},{"s":"OM","g":"OM","x":96.5,"y":7.5},{"s":"OM","g":"OM","x":98,"y":9.5},{"s":"OM","g":"OM","x":99,"y":12.6},{"s":"OM","g":"OM","x":99.5,"y":16},{"s":"OM","g":"OM","x":100,"y":28},{"s":"OM","g":"OM","x":101,"y":70},
{"s":"GM","g":"GM","x":1,"y":0},{"s":"GM","g":"GM","x":10,"y":0.02},{"s":"GM","g":"GM","x":20,"y":0.15},{"s":"GM","g":"GM","x":30,"y":0.3},{"s":"GM","g":"GM","x":40,"y":0.5},{"s":"GM","g":"GM","x":50,"y":0.75},{"s":"GM","g":"GM","x":60,"y":1.2},{"s":"GM","g":"GM","x":70,"y":1.8},{"s":"GM","g":"GM","x":75,"y":2.35},{"s":"GM","g":"GM","x":80,"y":3.0},{"s":"GM","g":"GM","x":85,"y":3.85},{"s":"GM","g":"GM","x":88,"y":4.5},{"s":"GM","g":"GM","x":91,"y":5.3},{"s":"GM","g":"GM","x":93,"y":6.0},{"s":"GM","g":"GM","x":95,"y":7.0},{"s":"GM","g":"GM","x":96.5,"y":8.2},{"s":"GM","g":"GM","x":98,"y":9.8},{"s":"GM","g":"GM","x":99,"y":12.2},{"s":"GM","g":"GM","x":99.5,"y":14.5},{"s":"GM","g":"GM","x":100,"y":17.5},{"s":"GM","g":"GM","x":101,"y":21}
]
},
"hconcat":[
{
"width":437,"height":350,
"title":"Empirical Cumulative Distribution from Qmap",
"layer":[
{
"data":{"name":"temp"},
"encoding":{
"x":{"field":"x","type":"quantitative","scale":{"domain":[-3,105],"nice":false,"zero":false},"axis":{"title":"Cumulative Probability","values":[0,20,40,60,80,100]}},
"y":{"field":"y","type":"quantitative","scale":{"domain":[-38.9,48.6],"nice":false,"zero":false},"axis":{"title":"Max Temperature in C","values":[-20,0,20,40]}},
"color":{"field":"s","type":"nominal","scale":{"domain":["OL","GL","OM","GM"],"range":["#A9A9A9","#D3D3D3","#0000EE","#E41A1C"]},"legend":{"orient":"bottom-right","labelExpr":"{'OL':'Observed Locations','GL':'GCM Locations','OM':'Observed Mean','GM':'GCM Mean'}[datum.label]"}},
"detail":{"field":"g","type":"nominal"}
},
"layer":[
{"transform":[{"filter":"datum.s=='GL'"}],"mark":{"type":"line","clip":true,"strokeWidth":1.4,"interpolate":"monotone"}},
{"transform":[{"filter":"datum.s=='OL'"}],"mark":{"type":"line","clip":true,"strokeWidth":3.5,"interpolate":"monotone"}},
{"transform":[{"filter":"datum.s=='OM'"}],"mark":{"type":"line","clip":true,"strokeWidth":3,"interpolate":"monotone"}},
{"transform":[{"filter":"datum.s=='GM'"}],"mark":{"type":"line","clip":true,"strokeWidth":3,"interpolate":"monotone"}}
]
},
{
"data":{"values":[{}]},
"mark":{"type":"rect","filled":false,"stroke":"black","strokeWidth":7,"clip":false},
"encoding":{"x":{"datum":-23.39,"type":"quantitative"},"x2":{"datum":115.51},"y":{"datum":67.6,"type":"quantitative"},"y2":{"datum":-61.525}}
}
]
},
{
"width":437,"height":350,
"title":"Empirical Cumulative Distribution from Qmap",
"layer":[
{
"data":{"name":"precip"},
"encoding":{
"x":{"field":"x","type":"quantitative","scale":{"domain":[-3,105],"nice":false,"zero":false},"axis":{"title":"Cumulative Probability","values":[0,20,40,60,80,100]}},
"y":{"field":"y","type":"quantitative","scale":{"domain":[-1,26],"nice":false,"zero":false},"axis":{"title":"Precip in mm","values":[0,5,10,15,20,25]}},
"color":{"field":"s","type":"nominal","scale":{"domain":["OL","GL","OM","GM"],"range":["#A9A9A9","#D3D3D3","#0000EE","#E41A1C"]},"legend":{"orient":"top-left","labelExpr":"{'OL':'Observed Locations','GL':'GCM Locations','OM':'Observed Mean','GM':'GCM Mean'}[datum.label]"}},
"detail":{"field":"g","type":"nominal"}
},
"layer":[
{"transform":[{"filter":"datum.s=='GL'"}],"mark":{"type":"line","clip":true,"strokeWidth":1.4,"interpolate":"monotone"}},
{"transform":[{"filter":"datum.s=='OL'"}],"mark":{"type":"line","clip":true,"strokeWidth":3,"interpolate":"monotone"}},
{"transform":[{"filter":"datum.s=='OM'"}],"mark":{"type":"line","clip":true,"strokeWidth":3,"interpolate":"monotone"}},
{"transform":[{"filter":"datum.s=='GM'"}],"mark":{"type":"line","clip":true,"strokeWidth":3,"interpolate":"monotone"}}
]
},
{
"data":{"values":[{}]},
"mark":{"type":"rule","stroke":"black","strokeWidth":7,"clip":false},
"encoding":{"x":{"datum":-23.39,"type":"quantitative"},"x2":{"datum":113.78},"y":{"datum":31.86,"type":"quantitative"}}
},
{
"data":{"values":[{}]},
"mark":{"type":"rule","stroke":"black","strokeWidth":7,"clip":false},
"encoding":{"x":{"datum":-23.39,"type":"quantitative"},"x2":{"datum":113.78},"y":{"datum":-7.98,"type":"quantitative"}}
},
{
"data":{"values":[{}]},
"mark":{"type":"rule","stroke":"black","strokeWidth":7,"clip":false},
"encoding":{"x":{"datum":-23.39,"type":"quantitative"},"y":{"datum":31.86,"type":"quantitative"},"y2":{"datum":-7.98}}
}
]
}
],
"resolve":{"scale":{"color":"independent","x":"independent","y":"independent"},"legend":{"color":"independent"}},
"config":{
"view":{"stroke":"#555","strokeWidth":1.2},
"axis":{"domain":false,"grid":false,"ticks":true,"tickSize":9,"tickColor":"#555","tickWidth":1.2,"labelFont":"Liberation Sans","labelFontSize":15.5,"labelColor":"#333","labelFlush":false,"labelOverlap":false,"titleFont":"Liberation Sans","titleFontSize":15.5,"titleFontWeight":"normal","titleColor":"#333"},
"axisX":{"labelPadding":9,"titlePadding":20},
"axisY":{"labelAngle":270,"labelAlign":"center","labelBaseline":"bottom","labelPadding":13,"titlePadding":23},
"title":{"font":"Liberation Sans","fontSize":19.3,"fontWeight":"bold","color":"#000","anchor":"middle","frame":"group","offset":-54},
"legend":{"offset":0,"title":null,"symbolType":"M-3,0H3","symbolSize":110,"symbolOffset":13,"symbolStrokeWidth":2.5,"labelFont":"Liberation Sans","labelFontSize":15.5,"labelColor":"#222","fillColor":"white","strokeColor":"black","strokeWidth":1.5,"padding":8.5,"rowPadding":0.5,"labelOffset":22}
}
}
